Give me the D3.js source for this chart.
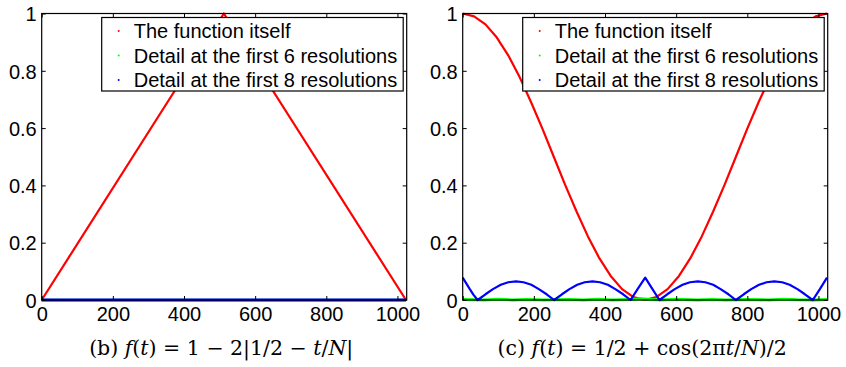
<!DOCTYPE html>
<html>
<head>
<meta charset="utf-8">
<script src="https://cdn.jsdelivr.net/npm/d3@7"></script>
<style>
body { margin:0; background:#fff; }
svg text { font-family: "Liberation Sans", Arial, sans-serif; }
</style>
</head>
<body>
<div id="chart"></div>
<script>
// data
var xTicks = [0, 200, 400, 600, 800, 1000]
var yTicks = [0, 0.2, 0.4, 0.6, 0.8, 1]
var legendLabels = ['The function itself', 'Detail at the first 6 resolutions', 'Detail at the first 8 resolutions']
var colors = ['#ff0000', '#00ff00', '#0000ff']

// panel (b)
var tTri = [0, 512, 1024]
var vTri = [0, 1, 0]
var tZeroB = [0, 1024]
var vZeroB = [0, 0]

// panel (c)
var tCos = [0, 32, 64, 96, 128, 160, 192, 224, 256, 288, 320, 352, 384, 416, 448, 480, 512,
  544, 576, 608, 640, 672, 704, 736, 768, 800, 832, 864, 896, 928, 960, 992, 1024]
var vCos = [1, 0.99, 0.962, 0.916, 0.854, 0.778, 0.691, 0.598, 0.5, 0.402, 0.309, 0.222, 0.146, 0.084, 0.038, 0.01, 0,
  0.01, 0.038, 0.084, 0.146, 0.222, 0.309, 0.402, 0.5, 0.598, 0.691, 0.778, 0.854, 0.916, 0.962, 0.99, 1]
var tGreen = [0, 60, 100, 140, 180, 230, 300, 340, 380, 420, 470, 500, 530, 560, 600, 660, 700, 740, 800, 860, 900, 940, 990, 1024]
var vGreen = [0.002, 0, 0.003, 0, 0.002, 0, 0.002, 0, 0.003, 0, 0.002, 0.004, 0.002, 0, 0.003, 0, 0.002, 0, 0.002, 0, 0.003, 0.001, 0, 0.002]
var tBlue = [0, 10, 20, 30, 42,
  64, 85, 107, 128, 150, 171, 193, 214, 236, 257,
  279, 300, 322, 343, 365, 386, 408, 429, 451, 472,
  492, 513, 533, 553,
  575, 596, 618, 639, 661, 682, 704, 725, 747, 768,
  790, 811, 833, 854, 876, 898, 919, 941, 962, 984,
  994, 1004, 1014, 1024]
var vBlue = [0.078, 0.058, 0.038, 0.019, 0,
  0.02, 0.038, 0.053, 0.062, 0.065, 0.062, 0.053, 0.038, 0.02, 0,
  0.02, 0.038, 0.053, 0.062, 0.065, 0.062, 0.053, 0.038, 0.02, 0,
  0.039, 0.078, 0.039, 0,
  0.02, 0.038, 0.053, 0.062, 0.065, 0.062, 0.053, 0.038, 0.02, 0,
  0.02, 0.038, 0.053, 0.062, 0.065, 0.062, 0.053, 0.038, 0.02, 0,
  0.019, 0.038, 0.058, 0.078]

var svg = d3.select('#chart').append('svg')
  .attr('width', 846)
  .attr('height', 367)

function zip(ts, vs) { return ts.map(function(t, i) { return [t, vs[i]] }) }

function drawPanel(left, series, widths, caption) {
  var top = 13.5, width = 365, height = 286.5
  var g = svg.append('g').attr('transform', 'translate(' + left + ',' + top + ')')
  var x = d3.scaleLinear().domain([0, 1026]).range([0, width])
  var y = d3.scaleLinear().domain([0, 1]).range([height, 0])

  var line = d3.line().x(function(d) { return x(d[0]) }).y(function(d) { return y(d[1]) })

  series.forEach(function(s, i) {
    g.append('path')
      .datum(zip(s[0], s[1]))
      .attr('d', line)
      .attr('fill', 'none')
      .attr('stroke', colors[i])
      .attr('stroke-width', widths[i])
      .attr('stroke-linejoin', 'round')
  })

  // box
  g.append('rect').attr('width', width).attr('height', height)
    .attr('fill', 'none').attr('stroke', '#000').attr('stroke-width', 1.2)

  var xb = g.append('g').attr('transform', 'translate(0,' + height + ')')
    .call(d3.axisBottom(x).tickValues(xTicks).tickSizeInner(-4).tickSizeOuter(0).tickPadding(7).tickFormat(d3.format('d')))
  var xt = g.append('g')
    .call(d3.axisTop(x).tickValues(xTicks).tickSizeInner(-4).tickSizeOuter(0).tickFormat(''))
  var yl = g.append('g')
    .call(d3.axisLeft(y).tickValues(yTicks).tickSizeInner(-4).tickSizeOuter(0).tickPadding(5).tickFormat(d3.format('')))
  var yr = g.append('g').attr('transform', 'translate(' + width + ',0)')
    .call(d3.axisRight(y).tickValues(yTicks).tickSizeInner(-4).tickSizeOuter(0).tickFormat(''))
  ;[xb, xt, yl, yr].forEach(function(a) {
    a.select('.domain').remove()
    a.selectAll('line').attr('stroke', '#000')
    a.selectAll('text').attr('font-size', 20).attr('fill', '#000')
      .style('font-family', '"Liberation Sans", Arial, sans-serif')
  })
  yl.selectAll('text').attr('dy', '0.36em')

  // legend
  var lg = g.append('g').attr('transform', 'translate(' + (width - 305) + ',4)')
  lg.append('rect').attr('width', 301.5).attr('height', 73.5)
    .attr('fill', '#fff').attr('stroke', '#000').attr('stroke-width', 1.2)
  legendLabels.forEach(function(lab, i) {
    var yy = 13.5 + i * 24.5
    lg.append('circle').attr('cx', 17).attr('cy', yy).attr('r', 1).attr('fill', colors[i])
    lg.append('text').attr('x', 32).attr('y', yy).attr('dy', '0.36em')
      .attr('font-size', 20).text(lab)
  })

  // caption
  var cap = svg.append('text')
    .attr('x', left + width / 2 - 3).attr('y', 355)
    .attr('text-anchor', 'middle')
    .attr('font-size', 20.5)
    .style('font-family', '"DejaVu Serif", serif')
  caption.forEach(function(p) {
    cap.append('tspan').text(p[0]).attr('font-style', p[1] ? 'italic' : 'normal')
  })
}

drawPanel(41.7, [[tTri, vTri], [tZeroB, vZeroB], [tZeroB, vZeroB]], [2.2, 2.5, 3],
  [['(b) ', 0], ['f', 1], ['(', 0], ['t', 1], [') = 1 \u2212 2|1/2 \u2212 ', 0], ['t', 1], ['/', 0], ['N', 1], ['|', 0]])
drawPanel(462.7, [[tCos, vCos], [tGreen, vGreen], [tBlue, vBlue]], [2.2, 3, 2.2],
  [['(c) ', 0], ['f', 1], ['(', 0], ['t', 1], [') = 1/2 + cos(2\u03c0', 0], ['t', 1], ['/', 0], ['N', 1], [')/2', 0]])
</script>
</body>
</html>
